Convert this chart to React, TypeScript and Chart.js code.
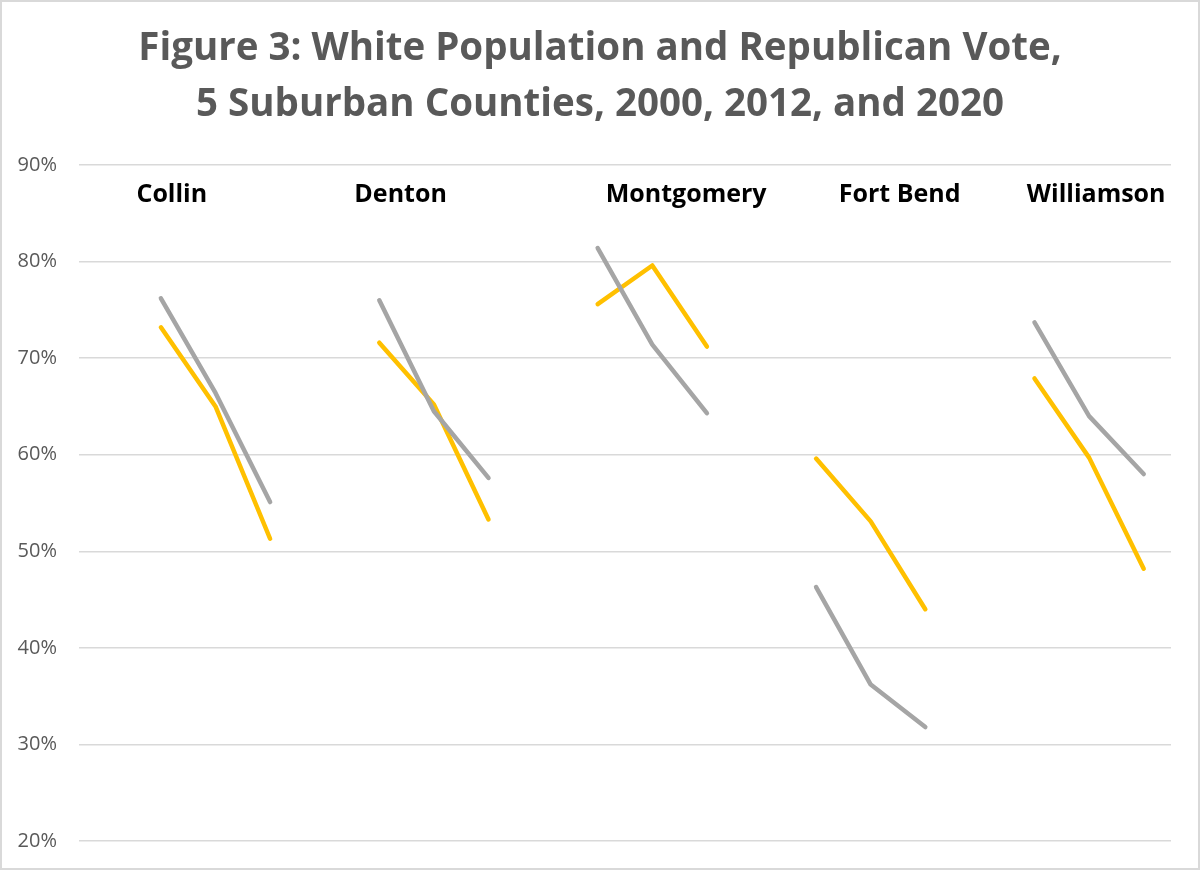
import React, { useEffect, useRef } from "react";
import { Chart, registerables } from "chart.js";

Chart.register(...registerables);

const counties = ["Collin", "Denton", "Montgomery", "Fort Bend", "Williamson"];
const years = ["2000", "2012", "2020"];
// White share of population (%), per county, for 2000, 2012, 2020
const whitePop = [76.2, 66.4, 55.1, 76.0, 64.5, 57.6, 81.4, 71.4, 64.3, 46.3, 36.2, 31.8, 73.7, 64.0, 58.0];
// Republican share of the vote (%), per county, for 2000, 2012, 2020
const gopVote = [73.2, 65.0, 51.3, 71.6, 65.2, 53.3, 75.6, 79.6, 71.2, 59.6, 53.1, 44.0, 67.9, 59.7, 48.2];
const yTicks = [20, 30, 40, 50, 60, 70, 80, 90];

// Build the category axis: a blank slot before each county group
const labels: string[] = [];
const withGaps = (vals: number[]) => {
  const out: (number | null)[] = [];
  counties.forEach((_, g) => {
    out.push(null);
    years.forEach((_, j) => out.push(vals[g * years.length + j]));
  });
  return out;
};
counties.forEach((c) => {
  labels.push("");
  years.forEach((y) => labels.push(c + " " + y));
});

const FONT = "'Open Sans', 'Noto Sans', sans-serif";
// label centre, in category units, for each county name
const countyLabelAt = [1.2, 5.39, 10.62, 14.53, 18.13];

const countyLabelPlugin = {
  id: "countyLabels",
  afterDraw(chart: any) {
    const ctx = chart.ctx;
    const xs = chart.scales.x;
    const ys = chart.scales.y;
    ctx.save();
    ctx.font = `bold 25px ${FONT}`;
    ctx.fillStyle = "#000000";
    ctx.textAlign = "center";
    ctx.textBaseline = "middle";
    counties.forEach((c, i) => {
      ctx.fillText(c, xs.getPixelForValue(countyLabelAt[i]), ys.getPixelForValue(86.9));
    });
    ctx.restore();
  },
};

export default function App() {
  const ref = useRef<HTMLCanvasElement | null>(null);
  useEffect(() => {
    document.body.style.margin = "0";
    if (!ref.current) return;
    const chart = new Chart(ref.current, {
      type: "line",
      data: {
        labels,
        datasets: [
          {
            label: "White population",
            data: withGaps(whitePop),
            borderColor: "#a5a5a5",
            borderWidth: 4.5,
            borderCapStyle: "round",
            borderJoinStyle: "round",
            pointRadius: 0,
            spanGaps: false,
            tension: 0,
          },
          {
            label: "Republican vote",
            data: withGaps(gopVote),
            borderColor: "#ffc000",
            borderWidth: 4.5,
            borderCapStyle: "round",
            borderJoinStyle: "round",
            pointRadius: 0,
            spanGaps: false,
            tension: 0,
          },
        ],
      },
      options: {
        animation: false,
        responsive: true,
        maintainAspectRatio: false,
        layout: { padding: { left: 0, right: 0, top: 0, bottom: 27 } },
        plugins: {
          legend: { display: false },
          tooltip: { enabled: false },
          title: {
            display: true,
            text: ["Figure 3: White Population and Republican Vote,", "5 Suburban Counties, 2000, 2012, and 2020"],
            color: "#595959",
            font: { family: FONT, size: 38.5, weight: "bold", lineHeight: 1.455 },
            padding: { top: 19, bottom: 32 },
          },
        },
        scales: {
          x: {
            type: "category",
            offset: true,
            display: false,
          },
          y: {
            min: 20,
            max: 90,
            afterFit(scale: any) {
              scale.width = 77;
            },
            afterBuildTicks(scale: any) {
              scale.ticks = yTicks.map((v) => ({ value: v }));
            },
            border: { display: false },
            grid: {
              color: "#d9d9d9",
              lineWidth: 1.5,
              drawTicks: true,
              tickLength: 22,
              tickColor: "rgba(0,0,0,0)",
            },
            ticks: {
              padding: 0,
              color: "#595959",
              font: { family: FONT, size: 20 },
              callback: (v: any) => v + "%",
            },
          },
          yRight: {
            type: "linear",
            position: "right",
            display: true,
            min: 20,
            max: 90,
            afterFit(scale: any) {
              scale.width = 27;
            },
            border: { display: false },
            grid: { display: false, drawTicks: false },
            ticks: { display: false },
          },
        },
      },
      plugins: [countyLabelPlugin],
    } as any);
    return () => chart.destroy();
  }, []);
  return (
    <div
      style={{
        width: 1200,
        height: 870,
        boxSizing: "border-box",
        border: "2px solid #d9d9d9",
        background: "#ffffff",
        position: "relative",
      }}
    >
      <div style={{ position: "absolute", inset: 0 }}>
        <canvas ref={ref} />
      </div>
    </div>
  );
}
